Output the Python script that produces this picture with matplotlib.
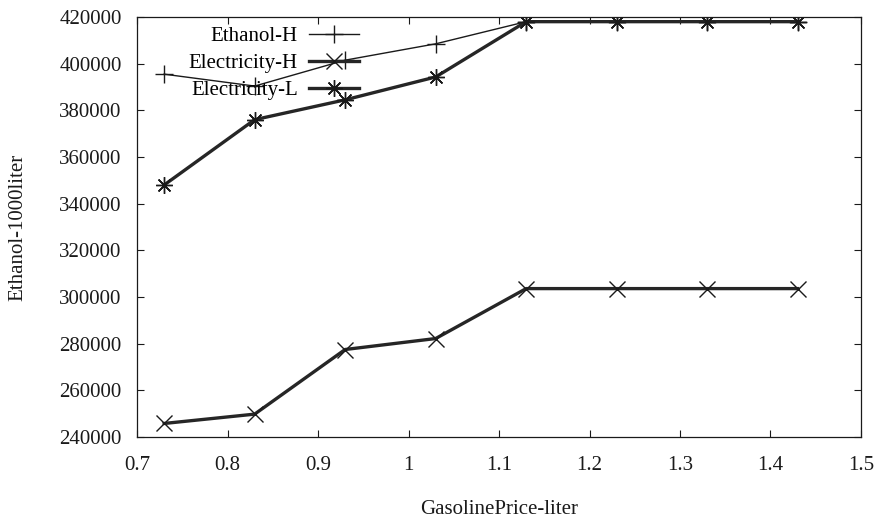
import matplotlib
matplotlib.use("Agg")
import matplotlib.pyplot as plt

plt.rcParams['font.family'] = ['Liberation Serif', 'DejaVu Serif']

# gasoline price per liter
price = [0.73, 0.83, 0.93, 1.03, 1.13, 1.23, 1.33, 1.43]

# ethanol production (1000 liter)
ethanol_h = [395500, 390400, 401500, 408500, 418000, 418000, 418000, 418000]
electricity_h = [245800, 249800, 277500, 282200, 303600, 303600, 303600, 303600]
electricity_l = [348000, 376000, 384500, 394300, 418000, 418000, 418000, 418000]

xticks = [0.7, 0.8, 0.9, 1, 1.1, 1.2, 1.3, 1.4, 1.5]
xticklabels = ['0.7', '0.8', '0.9', '1', '1.1', '1.2', '1.3', '1.4', '1.5']
yticks = list(range(240000, 420001, 20000))

fs = 15

fig = plt.figure(figsize=(8.79, 5.21), dpi=100)
ax = fig.add_axes([137 / 879, 1 - 437 / 521, (861 - 137) / 879, (437 - 17) / 521])

ax.plot(price, ethanol_h, color='#1a1a1a', lw=1.0, marker='+', ms=13,
        mew=1.0, label='Ethanol-H')
ax.plot(price, electricity_h, color='#262626', lw=2.4, marker='x', ms=11,
        mew=1.0, mec='#1a1a1a', label='Electricity-H')
ax.plot(price, electricity_l, color='#262626', lw=2.4, marker=(8, 2, 0), ms=12,
        mew=1.0, mec='#1a1a1a', label='Electricity-L')

ax.set_xlim(0.7, 1.5)
ax.set_ylim(240000, 420000)
ax.set_xticks(xticks)
ax.set_xticklabels(xticklabels)
ax.set_yticks(yticks)
ax.tick_params(direction='in', length=5, width=0.8, labelsize=fs,
               top=True, right=True, colors='#1a1a1a')
ax.tick_params(axis='y', pad=11)
ax.tick_params(axis='x', pad=14)
for s in ax.spines.values():
    s.set_linewidth(0.9)
    s.set_color('#1a1a1a')

ax.set_xlabel('GasolinePrice-liter', fontsize=fs, color='#1a1a1a')
ax.set_ylabel('Ethanol-1000liter', fontsize=fs, color='#1a1a1a')
ax.xaxis.set_label_coords(0.5, -0.15)
ax.yaxis.set_label_coords(-0.152, 0.5)

ax.legend(loc='upper right', bbox_to_anchor=(0.3185, 0.997), frameon=False,
          markerfirst=False, fontsize=fs, handlelength=2.4, handletextpad=0.55,
          labelspacing=0.36, borderaxespad=0.0)

fig.savefig('out.png', dpi=100)
